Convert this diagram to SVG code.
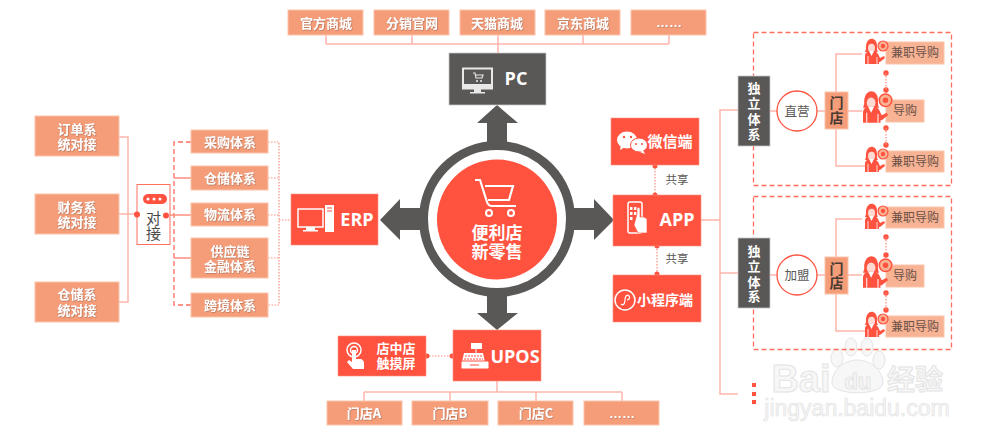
<svg xmlns="http://www.w3.org/2000/svg" xmlns:xlink="http://www.w3.org/1999/xlink" width="1000" height="444" viewBox="0 0 1000 444">
<style>
text{font-family:"Noto Sans CJK SC","Liberation Sans",sans-serif;text-anchor:middle}
.o{fill:#f59d79;stroke:#fbc4ac;stroke-width:1}
.r{fill:#ff5340;stroke:#ff8f80;stroke-width:.6}
.d{fill:#5a5856;stroke:#c8c8c8;stroke-width:.8}
.lo{fill:#fff;font-size:13px;font-weight:700;filter:url(#s)}
.ns{filter:none}
.el{font-family:"Liberation Sans",sans-serif}
.lr{fill:#fff;font-size:14px;font-weight:700}
.big{fill:#fff;font-size:18px;font-weight:700;font-family:"Open Sans","Liberation Sans",sans-serif}
.g{fill:#5a5856;font-size:11.500px}
.sub{fill:#f8b394;stroke:#fbc4ac;stroke-width:1}
.sl{fill:#6b5148;font-size:12px}
.mn{font-size:14px;font-weight:700;fill:#4a3a32}
.c{fill:none;stroke:#ffb5aa;stroke-width:1.5}
.c2{fill:none;stroke:#ff8f80;stroke-width:1.2;stroke-dasharray:1.5 1.5}
.dash{fill:none;stroke:#ff6f5e;stroke-width:1.3;stroke-dasharray:5 3}
.dot{fill:#ff5340}
.ic{fill:none;stroke:#fff;stroke-width:1.5}
.icf{fill:#fff}
.wm{fill:#f7f7f7;stroke:#e4e4e4;stroke-width:1}
</style>
<defs>
<filter id="s" x="-10%" y="-10%" width="120%" height="130%"><feDropShadow dx=".6" dy=".6" stdDeviation=".4" flood-color="#8a5a45" flood-opacity=".7"/></filter>
<g id="woman">
<path d="M-7 -4c-1 -13 11 -13 11 -3c0 3 0 5 1 6h-13z" fill="#ff5340"/>
<ellipse cx="-1.500" cy="-5" rx="3.500" ry="4.300" fill="#ffd9d2"/>
<path d="M-8 11v-8c0-3 2-5 6-5h2c3 0 5 2 6 5l1 2 4-2 1 2-5 4h-1v2z" fill="#ff5340"/>
<path d="M-4 -2l2.500 5 2.500-5z" fill="#fff"/>
<path d="M-5 3v8M4 4v7" stroke="#fff" stroke-width=".8"/>
<circle cx="10" cy="-7" r="5" fill="#f8b394" stroke="#ff5340" stroke-width="1.200"/>
<circle cx="10" cy="-7" r="2.200" fill="#ff5340"/>
</g>
</defs>

<g id="watermark">
<ellipse cx="837" cy="358" rx="6" ry="9" class="wm"/><ellipse cx="851" cy="347" rx="6" ry="9" class="wm"/><ellipse cx="867" cy="347" rx="6" ry="9" class="wm"/><ellipse cx="879" cy="360" rx="6" ry="9" class="wm"/>
<path d="M832 383c0-14 13-23 25-23s26 9 26 23c0 13-51 13-51 0z" class="wm"/>
<text x="801" y="392" style="font-size:38px;font-family:'Liberation Sans',sans-serif;font-weight:700" class="wm">Bai</text>
<text x="858" y="389" style="font-size:22px;font-family:'Liberation Sans',sans-serif;font-weight:700" class="wm">du</text>
<text x="915" y="390" style="font-size:28px;font-weight:700" class="wm">经验</text>
<text x="857" y="416" style="font-size:23px;font-family:'Liberation Sans',sans-serif;stroke-width:.7" class="wm">jingyan.baidu.com</text>
</g>

<g id="connectors">
<path class="c" d="M326 35V44M669 35V44M326 44H669M412 35V44M498 35V53M583 35V44"/>
<path class="c" d="M119 137H128V302H119M119 214H137"/>
<path class="dash" d="M191 142H174V305H191"/>
<path class="c" d="M174 178H191M174 258H191" style="stroke:#ff8f80"/>
<path class="c" d="M166 215H191" style="stroke:#ff8f80"/>
<path class="c2" d="M268 142H279V305H268M268 178H279M268 215H279M268 258H279M279 220H291"/>
<path class="c2" d="M655 165V195M657 246V275M426 356H453"/>
<circle class="dot" cx="655" cy="166" r="2.500"/><circle class="dot" cx="655" cy="195" r="2.500"/>
<circle class="dot" cx="657" cy="246" r="2.500"/><circle class="dot" cx="657" cy="274" r="2.500"/>
<circle class="dot" cx="427" cy="356" r="2.500"/><circle class="dot" cx="452" cy="356" r="2.500"/>
<path class="c" d="M497 381V392M364 392H622M364 392V401M450 392V401M536 392V401M622 392V401"/>
<path class="c" d="M701 220H720M738 110H720V394H738M720 273H738"/>
<rect class="dash" x="753.500" y="32.500" width="198" height="153"/>
<rect class="dash" x="753.500" y="196.500" width="198" height="153"/>
<path class="c" d="M770 111H777M817 111H825M848 111H862M836 92V54H862M836 129V166H866"/>
<path class="c" d="M770 275H777M817 275H825M848 275H862M836 257V219H862M836 294V331H866"/>
<g style="fill:#ff5340"><circle cx="886" cy="73" r="2.700"/><circle cx="886" cy="90" r="2.700"/><circle cx="886" cy="128" r="2.700"/><circle cx="886" cy="145" r="2.700"/><circle cx="886" cy="237" r="2.700"/><circle cx="886" cy="255" r="2.700"/><circle cx="886" cy="293" r="2.700"/><circle cx="886" cy="310" r="2.700"/></g>
<path class="c2" d="M886 73V90M886 128V145M886 237V255M886 293V310"/>
<g fill="#ff5340"><rect x="752" y="383" width="4" height="4"/><rect x="752" y="392" width="4" height="4"/><rect x="752" y="400" width="4" height="4"/></g>
<g fill="#5a5856">
<path d="M497 105L518 123H507V145H487V123H477Z"/>
<path d="M497 330L518 313H507V295H487V313H477Z"/>
<path d="M380 220L400 199V208H422V230H400V240Z"/>
<path d="M614 220L594 199V208H572V230H594V240Z"/>
</g>
</g>

<g id="hub">
<circle cx="497" cy="219" r="73.500" fill="#fff" stroke="#5a5856" stroke-width="9"/>
<circle cx="497" cy="219.500" r="60" fill="#ff5340"/>
<path d="M475 180h5l7 22c1 3 2 4 5 4h24M485 186h28l-4 14h-21" fill="none" stroke="#fff" stroke-width="2.200"/>
<circle cx="489" cy="213" r="3" fill="none" stroke="#fff" stroke-width="2"/><circle cx="511" cy="213" r="3" fill="none" stroke="#fff" stroke-width="2"/>
<text style="font-size:17px;font-weight:700;fill:#fff"><tspan x="497" y="239">便利店</tspan><tspan x="497" y="258">新零售</tspan></text>
</g>

<g id="top-1"><rect class="o" x="288" y="10" width="75" height="25"/><text class="lo" x="326" y="28">官方商城</text></g>
<g id="top-2"><rect class="o" x="374" y="10" width="75" height="25"/><text class="lo" x="412" y="28">分销官网</text></g>
<g id="top-3"><rect class="o" x="460" y="10" width="75" height="25"/><text class="lo" x="497" y="28">天猫商城</text></g>
<g id="top-4"><rect class="o" x="545" y="10" width="75" height="25"/><text class="lo" x="583" y="28">京东商城</text></g>
<g id="top-5"><rect class="o" x="631" y="10" width="75" height="25"/><text class="lo el" x="669" y="27">……</text></g>

<g id="pc"><rect class="d" x="449" y="53" width="97" height="52"/>
<rect x="463" y="68.500" width="29" height="20" fill="none" stroke="#e8e8e8" stroke-width="2"/><rect x="463" y="84" width="29" height="5" fill="#e8e8e8"/><path d="M474 89h7v3h4v1.500h-15v-1.500h4z" fill="#e8e8e8"/><path d="M473 73h2l1 5h6l1-3h-7" fill="none" stroke="#e8e8e8" stroke-width="1.200"/><circle cx="477" cy="81" r="1" fill="#e8e8e8"/><circle cx="481" cy="81" r="1" fill="#e8e8e8"/>
<text class="big" x="516" y="85">PC</text></g>

<g id="erp"><rect class="r" x="291" y="194" width="87" height="51"/>
<rect x="298" y="209" width="25" height="18" class="ic" stroke-width="2"/><path d="M306 227h9v3h3v1.500h-15v-1.500h3z" class="icf"/><rect x="325" y="205" width="9" height="27" class="icf"/><path d="M327 208h5M327 211h5" stroke="#ff5340"/>
<text class="big" x="357" y="226">ERP</text></g>

<g id="wechat"><rect class="r" x="611" y="118" width="88" height="47"/>
<ellipse cx="627" cy="140" rx="10" ry="8.500" class="icf"/><path d="M621 145l-1 5 5-3z" class="icf"/><ellipse cx="639" cy="145" rx="8.500" ry="7" class="icf" stroke="#ff5340"/><path d="M643 150l2 4-5-2z" class="icf"/><g fill="#ff5340"><circle cx="624" cy="137" r="1.200"/><circle cx="631" cy="137" r="1.200"/><circle cx="636" cy="144" r="1"/><circle cx="642" cy="144" r="1"/></g>
<text class="lr" x="670" y="147" style="font-size:15px">微信端</text></g>
<text class="g" x="677" y="184">共享</text>

<g id="app"><rect class="r" x="613" y="195" width="88" height="51"/>
<rect x="628" y="202" width="14" height="31" rx="2" class="ic"/><path d="M630 207h2.500v3h-2.500zM634 207h2.500v3h-2.500zM630 212h2.500v3h-2.500zM634 212h2.500v3h-2.500zM630 217h2.500v3h-2.500z" class="icf"/><path d="M637 214v-5c0-2 3-2 3 0v8h4l3 2v14h-9l-4-8z" class="icf" stroke="#ff5340" stroke-width=".6"/>
<text class="big" x="677" y="226">APP</text></g>
<text class="g" x="677" y="263">共享</text>

<g id="miniapp"><rect class="r" x="613" y="275" width="88" height="47"/>
<circle cx="625" cy="300" r="10" class="ic"/><path d="M621 304c2 2 4 0 4-4s2-6 4-4-1 4-2 4" fill="none" stroke="#fff" stroke-width="1.200"/>
<text class="lr" x="665" y="305">小程序端</text></g>

<g id="upos"><rect class="r" x="453" y="330" width="88" height="51"/>
<path d="M461 367l3-14h19l3 14z" class="icf"/><rect x="461" y="361" width="28" height="8" rx="1.500" fill="#fff" stroke="#ff5340"/><rect x="471" y="343" width="11" height="6" class="icf"/><path d="M476 349v4" stroke="#fff"/><path d="M465 356h17M464 359h19" stroke="#ff5340" stroke-dasharray="2 1"/><path d="M470 365h9" stroke="#ff5340"/>
<text class="big" x="515" y="363">UPOS</text></g>

<g id="kiosk"><rect class="r" x="338" y="336" width="88" height="40"/>
<circle cx="354" cy="350" r="7" class="ic"/><circle cx="354" cy="350" r="3.500" class="ic" stroke-width="1"/><path d="M352 350h4v9h5c2 1 3 2 3 4v6h-11l-6-7 2-2 3 2z" class="icf"/>
<text class="lo ns"><tspan x="396" y="353">店中店</tspan><tspan x="396" y="368">触摸屏</tspan></text></g>

<g id="store-a"><rect class="o" x="327" y="401" width="75" height="24"/><text class="lo" x="364" y="418">门店A</text></g>
<g id="store-b"><rect class="o" x="412" y="401" width="76" height="24"/><text class="lo" x="450" y="418">门店B</text></g>
<g id="store-c"><rect class="o" x="498" y="401" width="75" height="24"/><text class="lo" x="536" y="418">门店C</text></g>
<g id="store-more"><rect class="o" x="584" y="401" width="75" height="24"/><text class="lo el" x="622" y="418">……</text></g>

<g id="left-1"><rect class="o" x="35" y="116" width="84" height="40"/><text class="lo"><tspan x="77" y="134">订单系</tspan><tspan x="77" y="149">统对接</tspan></text></g>
<g id="left-2"><rect class="o" x="35" y="194" width="84" height="40"/><text class="lo"><tspan x="77" y="212">财务系</tspan><tspan x="77" y="227">统对接</tspan></text></g>
<g id="left-3"><rect class="o" x="35" y="282" width="84" height="40"/><text class="lo"><tspan x="77" y="299">仓储系</tspan><tspan x="77" y="315">统对接</tspan></text></g>

<g id="dock"><rect x="137" y="184.500" width="33" height="60" fill="#fff" stroke="#ff6f5e" stroke-width="1"/>
<rect x="143" y="194" width="24" height="10" rx="5" fill="#ff5340"/><circle cx="148" cy="199" r="1.500" fill="#fff"/><circle cx="154" cy="199" r="1.500" fill="#fff"/><circle cx="160" cy="199" r="1.500" fill="#fff"/>
<text style="font-size:15px;fill:#4a4a4a"><tspan x="153.500" y="224">对</tspan><tspan x="153.500" y="239">接</tspan></text>
<circle class="dot" cx="137" cy="214.500" r="3"/><circle class="dot" cx="166" cy="215.500" r="3"/></g>

<g id="sys-1"><rect class="o" x="191" y="130" width="77" height="23"/><text class="lo" x="230" y="147">采购体系</text></g>
<g id="sys-2"><rect class="o" x="191" y="166" width="77" height="24"/><text class="lo" x="230" y="183">仓储体系</text></g>
<g id="sys-3"><rect class="o" x="191" y="203" width="77" height="23"/><text class="lo" x="230" y="219">物流体系</text></g>
<g id="sys-4"><rect class="o" x="191" y="238" width="77" height="40"/><text class="lo"><tspan x="230" y="256">供应链</tspan><tspan x="230" y="271">金融体系</tspan></text></g>
<g id="sys-5"><rect class="o" x="191" y="293" width="77" height="24"/><text class="lo" x="230" y="310">跨境体系</text></g>

<g id="ind-1"><rect class="d" x="738" y="76" width="32" height="70"/><text class="lo ns"><tspan x="754" y="93">独</tspan><tspan x="754" y="108">立</tspan><tspan x="754" y="124">体</tspan><tspan x="754" y="139">系</tspan></text></g>
<g id="direct"><circle cx="797" cy="111" r="20" fill="#fff" stroke="#ff5340" stroke-width="1.300"/><text x="797" y="116" style="font-size:12.500px;fill:#5a5856">直营</text></g>
<g id="store-1"><rect class="o" x="825" y="92" width="23" height="37"/><text class="mn"><tspan x="836.500" y="108">门</tspan><tspan x="836.500" y="123">店</tspan></text></g>
<g id="w1"><rect class="sub" x="886" y="42" width="58" height="22"/><use xlink:href="#woman" href="#woman" x="873" y="53"/><text class="sl" x="915" y="57">兼职导购</text></g>
<g id="w2"><rect class="sub" x="886" y="100" width="38" height="22"/><use xlink:href="#woman" href="#woman" transform="translate(873 109) scale(1.250)"/><text class="sl" x="905" y="115">导购</text></g>
<g id="w3"><rect class="sub" x="886" y="151" width="58" height="21"/><use xlink:href="#woman" href="#woman" x="873" y="161"/><text class="sl" x="915" y="166">兼职导购</text></g>

<g id="ind-2"><rect class="d" x="738" y="238" width="32" height="70"/><text class="lo ns"><tspan x="754" y="256">独</tspan><tspan x="754" y="271">立</tspan><tspan x="754" y="287">体</tspan><tspan x="754" y="301">系</tspan></text></g>
<g id="join"><circle cx="797" cy="275" r="20" fill="#fff" stroke="#ff5340" stroke-width="1.300"/><text x="797" y="280" style="font-size:12.500px;fill:#5a5856">加盟</text></g>
<g id="store-2"><rect class="o" x="825" y="257" width="23" height="37"/><text class="mn"><tspan x="836.500" y="274">门</tspan><tspan x="836.500" y="288">店</tspan></text></g>
<g id="w4"><rect class="sub" x="886" y="207" width="58" height="21"/><use xlink:href="#woman" href="#woman" x="873" y="218"/><text class="sl" x="915" y="222">兼职导购</text></g>
<g id="w5"><rect class="sub" x="886" y="265" width="38" height="22"/><use xlink:href="#woman" href="#woman" transform="translate(873 274) scale(1.250)"/><text class="sl" x="905" y="280">导购</text></g>
<g id="w6"><rect class="sub" x="886" y="316" width="58" height="21"/><use xlink:href="#woman" href="#woman" x="873" y="326"/><text class="sl" x="915" y="331">兼职导购</text></g>
</svg>
